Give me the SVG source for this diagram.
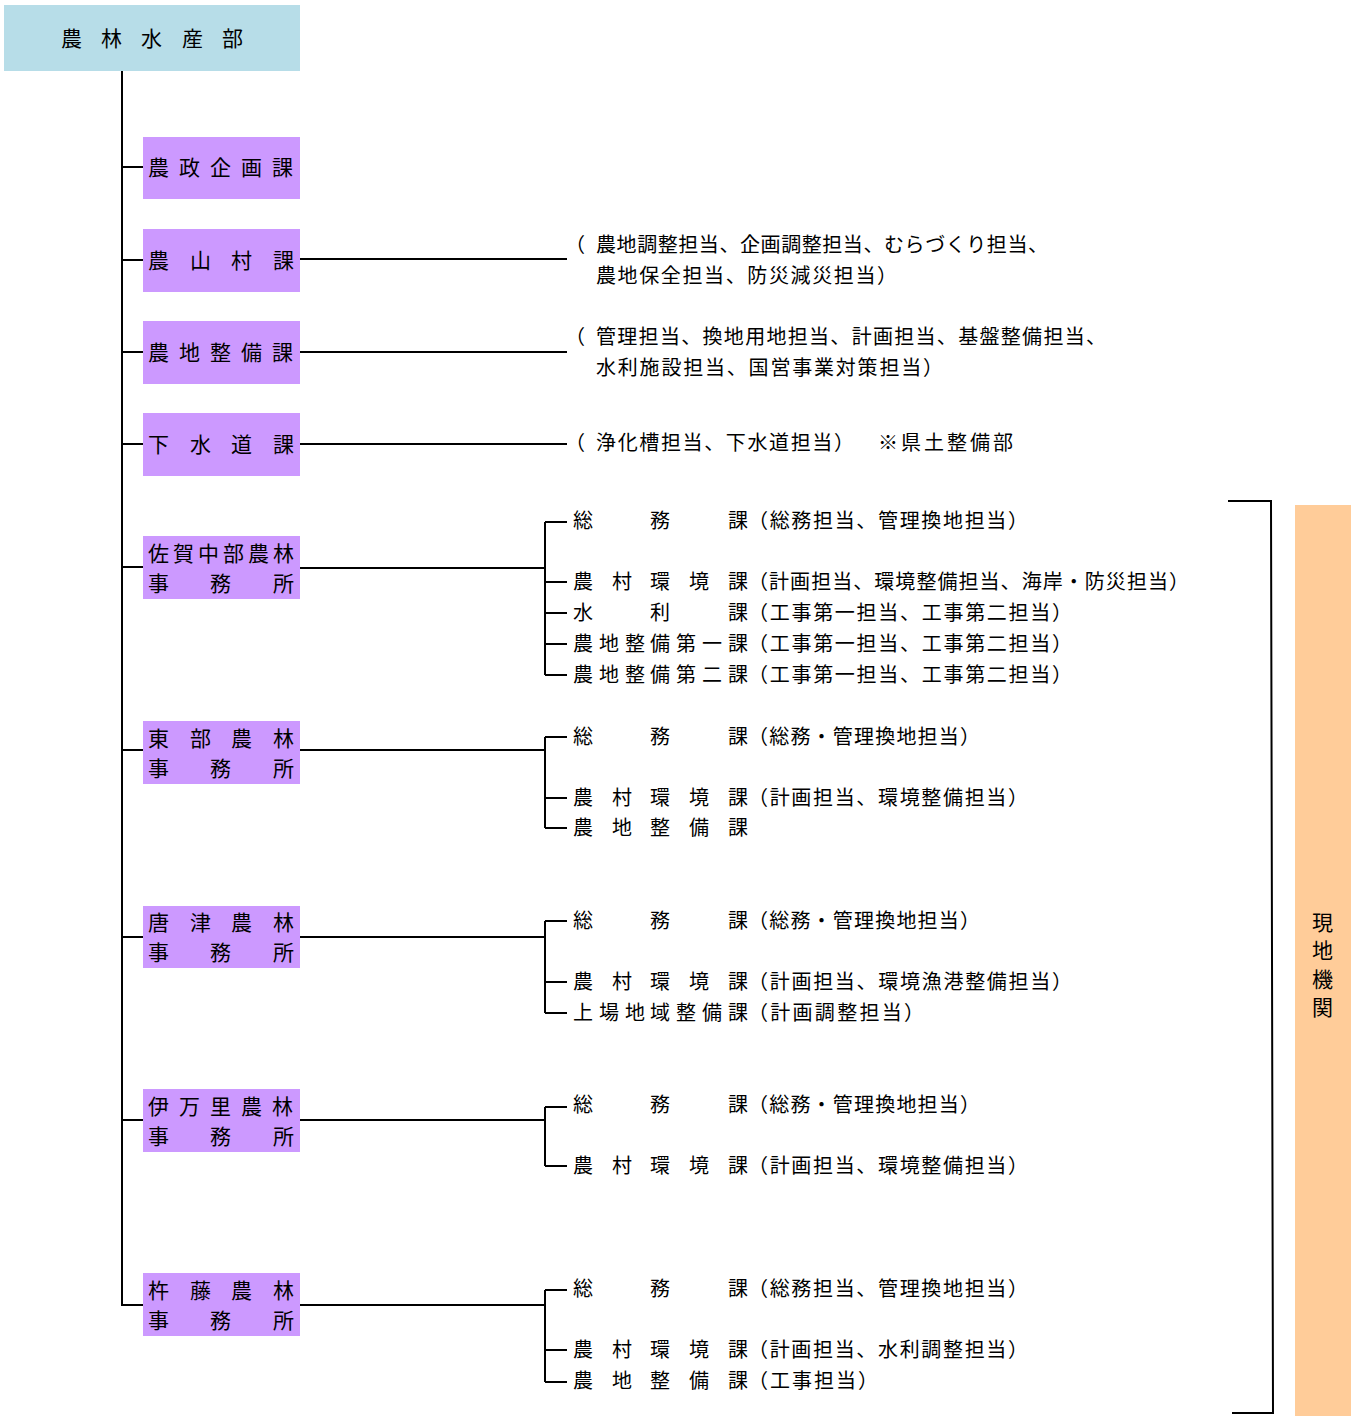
<svg xmlns="http://www.w3.org/2000/svg" width="1356" height="1416" viewBox="0 0 1356 1416">
<style>
text{font-family:"Noto Sans CJK JP","Noto Sans CJK SC",sans-serif;fill:#000}
.bx{font-size:21px}
.t{font-size:20px}
.hd{fill:#B7DDE8}
.pu{fill:#CC99FF}
.or{fill:#FFCC99}
.ln{stroke:#000;stroke-width:2;fill:none}
</style>
<rect width="1356" height="1416" fill="#fff"/>
<g id="connectors" class="ln">
<path d="M122,71V1305H143"/>
<path d="M122,167H143M122,260H143M122,352H143M122,444H143M122,567H143M122,750H143M122,937H143M122,1120H143"/>
<path d="M300,259H567M300,352H567M300,444H567"/>
<path d="M300,568H545M545,522V675M545,522H567M545,582H567M545,613H567M545,644H567M545,675H567"/>
<path d="M300,750H545M545,737V828M545,737H567M545,798H567M545,828H567"/>
<path d="M300,937H545M545,921V1013M545,921H567M545,982H567M545,1013H567"/>
<path d="M300,1120H545M545,1107V1166M545,1107H567M545,1166H567"/>
<path d="M300,1305H545M545,1290V1382M545,1290H567M545,1350H567M545,1382H567"/>
<path d="M1228,501H1271L1273,1413H1232"/>
</g>
<g id="n-bu"><rect class="hd" x="4" y="5" width="296" height="66"/><text class="bx" x="61 101 141 182 222" y="46">農林水産部</text></g>
<g id="n-nosei"><rect class="pu" x="143" y="137" width="157" height="62"/><text class="bx" x="148 179 210 241 272" y="175">農政企画課</text></g>
<g id="n-nosanson"><rect class="pu" x="143" y="229" width="157" height="63"/><text class="bx" x="148 190 231 273" y="268">農山村課</text>
<text class="t" x="565" y="252">（</text><text class="t" x="596" y="252" textLength="452" lengthAdjust="spacing">農地調整担当、企画調整担当、むらづくり担当、</text><text class="t" x="596" y="283" textLength="301" lengthAdjust="spacing">農地保全担当、防災減災担当）</text></g>
<g id="n-nochi"><rect class="pu" x="143" y="321" width="157" height="63"/><text class="bx" x="148 179 210 241 272" y="360">農地整備課</text>
<text class="t" x="565" y="344">（</text><text class="t" x="596" y="344" textLength="510" lengthAdjust="spacing">管理担当、換地用地担当、計画担当、基盤整備担当、</text><text class="t" x="596" y="375" textLength="347" lengthAdjust="spacing">水利施設担当、国営事業対策担当）</text></g>
<g id="n-gesui"><rect class="pu" x="143" y="413" width="157" height="63"/><text class="bx" x="148 190 231 273" y="452">下水道課</text>
<text class="t" x="565" y="450">（</text><text class="t" x="596" y="450" textLength="258" lengthAdjust="spacing">浄化槽担当、下水道担当）</text><text class="t" x="878" y="450" textLength="135" lengthAdjust="spacing">※県土整備部</text></g>
<g id="n-saga"><rect class="pu" x="143" y="536" width="157" height="63"/><text class="bx" x="148 173 198 223 248 273" y="561">佐賀中部農林</text><text class="bx" x="148 210 273" y="591">事務所</text>
<text class="t" x="573 650 728" y="528">総務課</text><text class="t" x="748" y="528" textLength="280" lengthAdjust="spacing">（総務担当、管理換地担当）</text>
<text class="t" x="573 612 650 689 728" y="589">農村環境課</text><text class="t" x="748" y="589" textLength="441" lengthAdjust="spacing">（計画担当、環境整備担当、海岸・防災担当）</text>
<text class="t" x="573 650 728" y="620">水利課</text><text class="t" x="748" y="620" textLength="324" lengthAdjust="spacing">（工事第一担当、工事第二担当）</text>
<text class="t" x="573 599 625 650 676 702 728" y="651">農地整備第一課</text><text class="t" x="748" y="651" textLength="324" lengthAdjust="spacing">（工事第一担当、工事第二担当）</text>
<text class="t" x="573 599 625 650 676 702 728" y="682">農地整備第二課</text><text class="t" x="748" y="682" textLength="324" lengthAdjust="spacing">（工事第一担当、工事第二担当）</text></g>
<g id="n-tobu"><rect class="pu" x="143" y="721" width="157" height="63"/><text class="bx" x="148 190 231 273" y="746">東部農林</text><text class="bx" x="148 210 273" y="776">事務所</text>
<text class="t" x="573 650 728" y="744">総務課</text><text class="t" x="748" y="744" textLength="232" lengthAdjust="spacing">（総務・管理換地担当）</text>
<text class="t" x="573 612 650 689 728" y="805">農村環境課</text><text class="t" x="748" y="805" textLength="280" lengthAdjust="spacing">（計画担当、環境整備担当）</text>
<text class="t" x="573 612 650 689 728" y="835">農地整備課</text></g>
<g id="n-karatsu"><rect class="pu" x="143" y="906" width="157" height="62"/><text class="bx" x="148 190 231 273" y="930">唐津農林</text><text class="bx" x="148 210 273" y="960">事務所</text>
<text class="t" x="573 650 728" y="928">総務課</text><text class="t" x="748" y="928" textLength="232" lengthAdjust="spacing">（総務・管理換地担当）</text>
<text class="t" x="573 612 650 689 728" y="989">農村環境課</text><text class="t" x="748" y="989" textLength="324" lengthAdjust="spacing">（計画担当、環境漁港整備担当）</text>
<text class="t" x="573 599 625 650 676 702 728" y="1020">上場地域整備課</text><text class="t" x="748" y="1020" textLength="176" lengthAdjust="spacing">（計画調整担当）</text></g>
<g id="n-imari"><rect class="pu" x="143" y="1089" width="157" height="63"/><text class="bx" x="148 179 210 241 272" y="1114">伊万里農林</text><text class="bx" x="148 210 273" y="1144">事務所</text>
<text class="t" x="573 650 728" y="1112">総務課</text><text class="t" x="748" y="1112" textLength="232" lengthAdjust="spacing">（総務・管理換地担当）</text>
<text class="t" x="573 612 650 689 728" y="1173">農村環境課</text><text class="t" x="748" y="1173" textLength="280" lengthAdjust="spacing">（計画担当、環境整備担当）</text></g>
<g id="n-kito"><rect class="pu" x="143" y="1273" width="157" height="63"/><text class="bx" x="148 190 231 273" y="1298">杵藤農林</text><text class="bx" x="148 210 273" y="1328">事務所</text>
<text class="t" x="573 650 728" y="1296">総務課</text><text class="t" x="748" y="1296" textLength="280" lengthAdjust="spacing">（総務担当、管理換地担当）</text>
<text class="t" x="573 612 650 689 728" y="1357">農村環境課</text><text class="t" x="748" y="1357" textLength="280" lengthAdjust="spacing">（計画担当、水利調整担当）</text>
<text class="t" x="573 612 650 689 728" y="1388">農地整備課</text><text class="t" x="748" y="1388" textLength="130" lengthAdjust="spacing">（工事担当）</text></g>
<g id="n-genchi"><rect class="or" x="1295" y="505" width="56" height="911"/><text class="bx" x="1312" y="930">現</text><text class="bx" x="1312" y="958">地</text><text class="bx" x="1312" y="987">機</text><text class="bx" x="1312" y="1015">関</text></g>
</svg>
